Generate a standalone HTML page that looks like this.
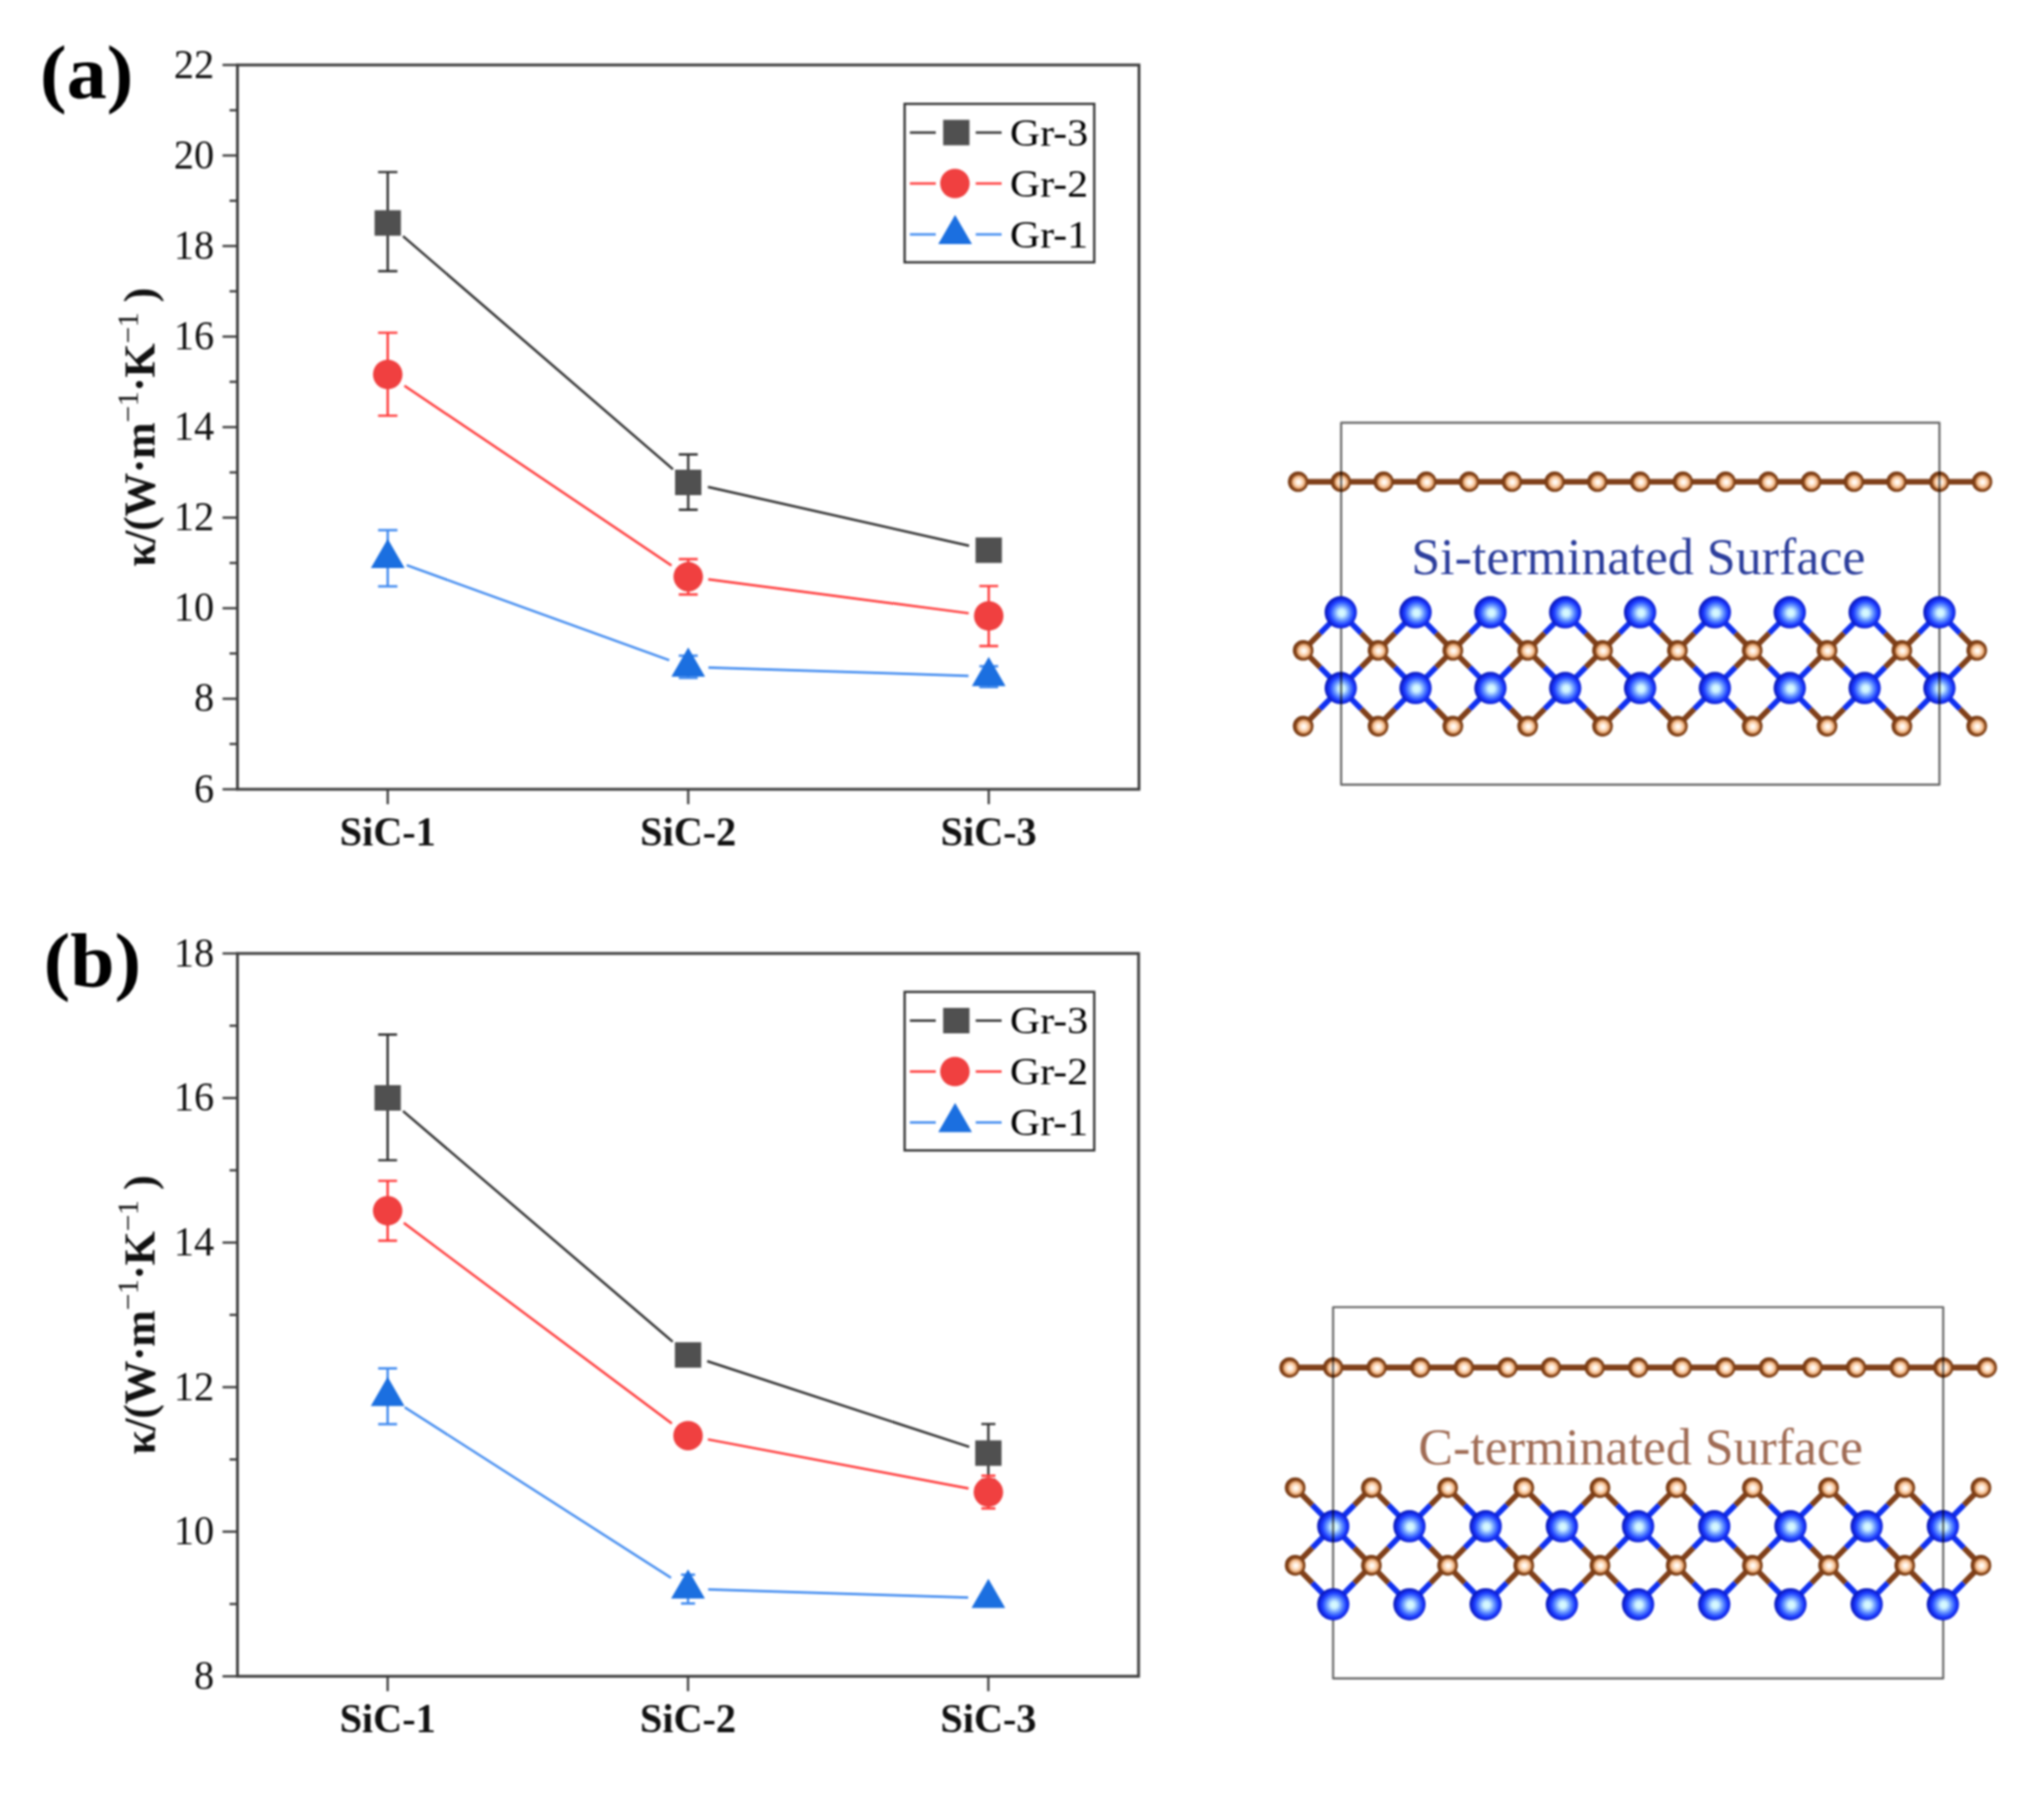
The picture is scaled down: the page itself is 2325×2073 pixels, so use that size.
<!DOCTYPE html>
<html><head><meta charset="utf-8"><title>Thermal conductivity of Gr/SiC</title>
<style>
html,body{margin:0;padding:0;background:#fff;}
svg{display:block;filter:blur(0.9px);}
text{font-family:"Liberation Serif","Times New Roman",serif;}
.b{font-weight:bold;}
</style></head><body>
<svg width="2325" height="2073" viewBox="0 0 2325 2073">
<defs>
<radialGradient id="gC" cx="0.53" cy="0.52" r="0.5">
<stop offset="0" stop-color="#ffffff"/><stop offset="0.18" stop-color="#fff4e8"/><stop offset="0.48" stop-color="#f8c8a0"/><stop offset="0.64" stop-color="#d4935f"/><stop offset="0.75" stop-color="#864519"/><stop offset="1" stop-color="#783a14"/>
</radialGradient>
<radialGradient id="gS" cx="0.53" cy="0.52" r="0.5">
<stop offset="0" stop-color="#dcfdff"/><stop offset="0.2" stop-color="#cdf3ff"/><stop offset="0.5" stop-color="#5f8eff"/><stop offset="0.74" stop-color="#1e40ff"/><stop offset="0.86" stop-color="#142ae8"/><stop offset="1" stop-color="#0c1cbc"/>
</radialGradient>
</defs>
<rect width="2325" height="2073" fill="#fff"/>

<rect x="270.5" y="74" width="1027.0" height="825" fill="none" stroke="#3e3e3e" stroke-width="3.2"/>
<line x1="253.5" y1="899.0" x2="270.5" y2="899.0" stroke="#3e3e3e" stroke-width="2.6"/>
<text x="244.0" y="913.5" font-size="46" text-anchor="end" fill="#111">6</text>
<line x1="261.5" y1="847.4" x2="270.5" y2="847.4" stroke="#3e3e3e" stroke-width="2.6"/>
<line x1="253.5" y1="795.9" x2="270.5" y2="795.9" stroke="#3e3e3e" stroke-width="2.6"/>
<text x="244.0" y="810.4" font-size="46" text-anchor="end" fill="#111">8</text>
<line x1="261.5" y1="744.3" x2="270.5" y2="744.3" stroke="#3e3e3e" stroke-width="2.6"/>
<line x1="253.5" y1="692.8" x2="270.5" y2="692.8" stroke="#3e3e3e" stroke-width="2.6"/>
<text x="244.0" y="707.2" font-size="46" text-anchor="end" fill="#111">10</text>
<line x1="261.5" y1="641.2" x2="270.5" y2="641.2" stroke="#3e3e3e" stroke-width="2.6"/>
<line x1="253.5" y1="589.6" x2="270.5" y2="589.6" stroke="#3e3e3e" stroke-width="2.6"/>
<text x="244.0" y="604.1" font-size="46" text-anchor="end" fill="#111">12</text>
<line x1="261.5" y1="538.1" x2="270.5" y2="538.1" stroke="#3e3e3e" stroke-width="2.6"/>
<line x1="253.5" y1="486.5" x2="270.5" y2="486.5" stroke="#3e3e3e" stroke-width="2.6"/>
<text x="244.0" y="501.0" font-size="46" text-anchor="end" fill="#111">14</text>
<line x1="261.5" y1="434.9" x2="270.5" y2="434.9" stroke="#3e3e3e" stroke-width="2.6"/>
<line x1="253.5" y1="383.4" x2="270.5" y2="383.4" stroke="#3e3e3e" stroke-width="2.6"/>
<text x="244.0" y="397.9" font-size="46" text-anchor="end" fill="#111">16</text>
<line x1="261.5" y1="331.8" x2="270.5" y2="331.8" stroke="#3e3e3e" stroke-width="2.6"/>
<line x1="253.5" y1="280.2" x2="270.5" y2="280.2" stroke="#3e3e3e" stroke-width="2.6"/>
<text x="244.0" y="294.8" font-size="46" text-anchor="end" fill="#111">18</text>
<line x1="261.5" y1="228.7" x2="270.5" y2="228.7" stroke="#3e3e3e" stroke-width="2.6"/>
<line x1="253.5" y1="177.1" x2="270.5" y2="177.1" stroke="#3e3e3e" stroke-width="2.6"/>
<text x="244.0" y="191.6" font-size="46" text-anchor="end" fill="#111">20</text>
<line x1="261.5" y1="125.6" x2="270.5" y2="125.6" stroke="#3e3e3e" stroke-width="2.6"/>
<line x1="253.5" y1="74.0" x2="270.5" y2="74.0" stroke="#3e3e3e" stroke-width="2.6"/>
<text x="244.0" y="88.5" font-size="46" text-anchor="end" fill="#111">22</text>
<line x1="441.7" y1="899" x2="441.7" y2="916" stroke="#3e3e3e" stroke-width="2.6"/>
<text class="b" x="441.7" y="962.8" font-size="45.8" text-anchor="middle" fill="#111">SiC-1</text>
<line x1="784.0" y1="899" x2="784.0" y2="916" stroke="#3e3e3e" stroke-width="2.6"/>
<text class="b" x="784.0" y="962.8" font-size="45.8" text-anchor="middle" fill="#111">SiC-2</text>
<line x1="1126.3" y1="899" x2="1126.3" y2="916" stroke="#3e3e3e" stroke-width="2.6"/>
<text class="b" x="1126.3" y="962.8" font-size="45.8" text-anchor="middle" fill="#111">SiC-3</text>
<text class="b" x="45.5" y="112" font-size="86" fill="#000" textLength="106.5" lengthAdjust="spacingAndGlyphs">(a)</text>
<text class="b" transform="translate(175.5,645.5) rotate(-90)" font-size="50" fill="#111" textLength="318" lengthAdjust="spacing">κ/(W·m<tspan font-size="34" dy="-19" font-weight="normal">−1</tspan><tspan dy="19">·K</tspan><tspan font-size="34" dy="-19" font-weight="normal">−1</tspan><tspan dy="19"> )</tspan></text>
<line x1="459.1" y1="269.0" x2="766.6" y2="534.5" stroke="#333333" stroke-width="2.7"/>
<line x1="806.4" y1="554.6" x2="1103.9" y2="621.6" stroke="#333333" stroke-width="2.7"/>
<path d="M441.7 196.0V308.9M430.7 196.0H452.7M430.7 308.9H452.7" stroke="#333333" stroke-width="2.7" fill="none"/>
<rect x="426.7" y="239.5" width="30" height="29" fill="#505050"/>
<path d="M784.0 517.6V580.7M773.2 517.6H794.8M773.2 580.7H794.8" stroke="#333333" stroke-width="2.7" fill="none"/>
<rect x="769.0" y="535.0" width="30" height="29" fill="#505050"/>
<rect x="1111.3" y="612.2" width="30" height="29" fill="#505050"/>
<line x1="460.7" y1="439.3" x2="764.9" y2="644.1" stroke="#ff3c3c" stroke-width="2.7"/>
<line x1="806.8" y1="659.9" x2="1103.5" y2="698.5" stroke="#ff3c3c" stroke-width="2.7"/>
<path d="M441.7 379.0V473.5M430.7 379.0H452.7M430.7 473.5H452.7" stroke="#ff3c3c" stroke-width="2.7" fill="none"/>
<circle cx="441.7" cy="426.5" r="16.8" fill="#f04040"/>
<path d="M784.0 636.8V677.1M773.2 636.8H794.8M773.2 677.1H794.8" stroke="#ff3c3c" stroke-width="2.7" fill="none"/>
<circle cx="784.0" cy="656.9" r="16.8" fill="#f04040"/>
<path d="M1126.3 667.5V735.9M1115.6 667.5H1137.1M1115.6 735.9H1137.1" stroke="#ff3c3c" stroke-width="2.7" fill="none"/>
<circle cx="1126.3" cy="701.5" r="16.8" fill="#f04040"/>
<line x1="463.3" y1="643.8" x2="762.4" y2="751.9" stroke="#438cf0" stroke-width="2.7"/>
<line x1="807.0" y1="760.4" x2="1103.3" y2="769.8" stroke="#438cf0" stroke-width="2.7"/>
<path d="M441.7 603.9V667.8M430.7 603.9H452.7M430.7 667.8H452.7" stroke="#438cf0" stroke-width="2.7" fill="none"/>
<path d="M441.7 613.8L460.9 647.1H422.5Z" fill="#1b6fe0"/>
<path d="M784.0 746.9V772.2M773.2 746.9H794.8M773.2 772.2H794.8" stroke="#438cf0" stroke-width="2.7" fill="none"/>
<path d="M784.0 737.5L803.2 770.8H764.8Z" fill="#1b6fe0"/>
<path d="M1126.3 758.9V782.6M1115.6 758.9H1137.1M1115.6 782.6H1137.1" stroke="#438cf0" stroke-width="2.7" fill="none"/>
<path d="M1126.3 748.3L1145.5 781.6H1107.1Z" fill="#1b6fe0"/>
<rect x="1030.5" y="118.3" width="216.0" height="180.5" fill="#fff" stroke="#333" stroke-width="2.6"/>
<line x1="1036.5" y1="151.0" x2="1066" y2="151.0" stroke="#333333" stroke-width="2.7"/>
<line x1="1111.5" y1="151.0" x2="1141" y2="151.0" stroke="#333333" stroke-width="2.7"/>
<rect x="1074.4" y="136.5" width="30" height="29" fill="#505050"/>
<text x="1150.5" y="165.5" font-size="44.5" fill="#000" textLength="89" lengthAdjust="spacingAndGlyphs">Gr-3</text>
<line x1="1036.5" y1="209.0" x2="1066" y2="209.0" stroke="#ff3c3c" stroke-width="2.7"/>
<line x1="1111.5" y1="209.0" x2="1141" y2="209.0" stroke="#ff3c3c" stroke-width="2.7"/>
<circle cx="1087.8" cy="209.0" r="16.8" fill="#f04040"/>
<text x="1150.5" y="223.5" font-size="44.5" fill="#000" textLength="89" lengthAdjust="spacingAndGlyphs">Gr-2</text>
<line x1="1036.5" y1="267.0" x2="1066" y2="267.0" stroke="#438cf0" stroke-width="2.7"/>
<line x1="1111.5" y1="267.0" x2="1141" y2="267.0" stroke="#438cf0" stroke-width="2.7"/>
<path d="M1088.0 244.8L1107.2 278.1H1068.8Z" fill="#1b6fe0"/>
<text x="1150.5" y="281.5" font-size="44.5" fill="#000" textLength="89" lengthAdjust="spacingAndGlyphs">Gr-1</text>
<rect x="270.5" y="1086" width="1026.5" height="823.3" fill="none" stroke="#3e3e3e" stroke-width="3.2"/>
<line x1="253.5" y1="1909.3" x2="270.5" y2="1909.3" stroke="#3e3e3e" stroke-width="2.6"/>
<text x="244.0" y="1923.8" font-size="46" text-anchor="end" fill="#111">8</text>
<line x1="261.5" y1="1827.0" x2="270.5" y2="1827.0" stroke="#3e3e3e" stroke-width="2.6"/>
<line x1="253.5" y1="1744.6" x2="270.5" y2="1744.6" stroke="#3e3e3e" stroke-width="2.6"/>
<text x="244.0" y="1759.1" font-size="46" text-anchor="end" fill="#111">10</text>
<line x1="261.5" y1="1662.3" x2="270.5" y2="1662.3" stroke="#3e3e3e" stroke-width="2.6"/>
<line x1="253.5" y1="1580.0" x2="270.5" y2="1580.0" stroke="#3e3e3e" stroke-width="2.6"/>
<text x="244.0" y="1594.5" font-size="46" text-anchor="end" fill="#111">12</text>
<line x1="261.5" y1="1497.7" x2="270.5" y2="1497.7" stroke="#3e3e3e" stroke-width="2.6"/>
<line x1="253.5" y1="1415.3" x2="270.5" y2="1415.3" stroke="#3e3e3e" stroke-width="2.6"/>
<text x="244.0" y="1429.8" font-size="46" text-anchor="end" fill="#111">14</text>
<line x1="261.5" y1="1333.0" x2="270.5" y2="1333.0" stroke="#3e3e3e" stroke-width="2.6"/>
<line x1="253.5" y1="1250.7" x2="270.5" y2="1250.7" stroke="#3e3e3e" stroke-width="2.6"/>
<text x="244.0" y="1265.2" font-size="46" text-anchor="end" fill="#111">16</text>
<line x1="261.5" y1="1168.3" x2="270.5" y2="1168.3" stroke="#3e3e3e" stroke-width="2.6"/>
<line x1="253.5" y1="1086.0" x2="270.5" y2="1086.0" stroke="#3e3e3e" stroke-width="2.6"/>
<text x="244.0" y="1100.5" font-size="46" text-anchor="end" fill="#111">18</text>
<line x1="441.6" y1="1909.3" x2="441.6" y2="1926.3" stroke="#3e3e3e" stroke-width="2.6"/>
<text class="b" x="441.6" y="1973.1" font-size="45.8" text-anchor="middle" fill="#111">SiC-1</text>
<line x1="783.8" y1="1909.3" x2="783.8" y2="1926.3" stroke="#3e3e3e" stroke-width="2.6"/>
<text class="b" x="783.8" y="1973.1" font-size="45.8" text-anchor="middle" fill="#111">SiC-2</text>
<line x1="1125.9" y1="1909.3" x2="1125.9" y2="1926.3" stroke="#3e3e3e" stroke-width="2.6"/>
<text class="b" x="1125.9" y="1973.1" font-size="45.8" text-anchor="middle" fill="#111">SiC-3</text>
<text class="b" x="49.8" y="1123" font-size="86" fill="#000" textLength="111" lengthAdjust="spacingAndGlyphs">(b)</text>
<text class="b" transform="translate(175.5,1656.7) rotate(-90)" font-size="50" fill="#111" textLength="318" lengthAdjust="spacing">κ/(W·m<tspan font-size="34" dy="-19" font-weight="normal">−1</tspan><tspan dy="19">·K</tspan><tspan font-size="34" dy="-19" font-weight="normal">−1</tspan><tspan dy="19"> )</tspan></text>
<line x1="459.1" y1="1265.5" x2="766.3" y2="1528.3" stroke="#333333" stroke-width="2.7"/>
<line x1="805.6" y1="1550.4" x2="1104.1" y2="1648.0" stroke="#333333" stroke-width="2.7"/>
<path d="M441.6 1178.4V1321.5M430.8 1178.4H452.3M430.8 1321.5H452.3" stroke="#333333" stroke-width="2.7" fill="none"/>
<rect x="426.6" y="1236.0" width="30" height="29" fill="#505050"/>
<rect x="768.8" y="1528.8" width="30" height="29" fill="#505050"/>
<path d="M1125.9 1622.0V1685.4M1117.9 1622.0H1133.9M1117.9 1685.4H1133.9" stroke="#333333" stroke-width="2.7" fill="none"/>
<rect x="1110.9" y="1640.6" width="30" height="29" fill="#505050"/>
<line x1="460.0" y1="1392.9" x2="765.3" y2="1621.4" stroke="#ff3c3c" stroke-width="2.7"/>
<line x1="806.4" y1="1639.5" x2="1103.3" y2="1695.3" stroke="#ff3c3c" stroke-width="2.7"/>
<path d="M441.6 1345.0V1413.2M430.8 1345.0H452.3M430.8 1413.2H452.3" stroke="#ff3c3c" stroke-width="2.7" fill="none"/>
<circle cx="441.6" cy="1379.1" r="16.8" fill="#f04040"/>
<circle cx="783.8" cy="1635.2" r="16.8" fill="#f04040"/>
<path d="M1125.9 1680.8V1718.1M1117.9 1680.8H1133.9M1117.9 1718.1H1133.9" stroke="#ff3c3c" stroke-width="2.7" fill="none"/>
<circle cx="1125.9" cy="1699.6" r="16.8" fill="#f04040"/>
<line x1="461.0" y1="1602.8" x2="764.4" y2="1797.2" stroke="#438cf0" stroke-width="2.7"/>
<line x1="806.7" y1="1810.3" x2="1102.9" y2="1819.7" stroke="#438cf0" stroke-width="2.7"/>
<path d="M441.6 1558.6V1622.1M430.8 1558.6H452.3M430.8 1622.1H452.3" stroke="#438cf0" stroke-width="2.7" fill="none"/>
<path d="M441.6 1568.2L460.8 1601.5H422.4Z" fill="#1b6fe0"/>
<path d="M783.8 1793.6V1826.3M775.8 1793.6H791.8M775.8 1826.3H791.8" stroke="#438cf0" stroke-width="2.7" fill="none"/>
<path d="M783.8 1787.4L803.0 1820.7H764.5Z" fill="#1b6fe0"/>
<path d="M1125.9 1798.2L1145.1 1831.5H1106.7Z" fill="#1b6fe0"/>
<rect x="1030.5" y="1129.8" width="216.0" height="180.5" fill="#fff" stroke="#333" stroke-width="2.6"/>
<line x1="1036.5" y1="1162.5" x2="1066" y2="1162.5" stroke="#333333" stroke-width="2.7"/>
<line x1="1111.5" y1="1162.5" x2="1141" y2="1162.5" stroke="#333333" stroke-width="2.7"/>
<rect x="1074.4" y="1148.0" width="30" height="29" fill="#505050"/>
<text x="1150.5" y="1177.0" font-size="44.5" fill="#000" textLength="89" lengthAdjust="spacingAndGlyphs">Gr-3</text>
<line x1="1036.5" y1="1220.5" x2="1066" y2="1220.5" stroke="#ff3c3c" stroke-width="2.7"/>
<line x1="1111.5" y1="1220.5" x2="1141" y2="1220.5" stroke="#ff3c3c" stroke-width="2.7"/>
<circle cx="1087.8" cy="1220.5" r="16.8" fill="#f04040"/>
<text x="1150.5" y="1235.0" font-size="44.5" fill="#000" textLength="89" lengthAdjust="spacingAndGlyphs">Gr-2</text>
<line x1="1036.5" y1="1278.5" x2="1066" y2="1278.5" stroke="#438cf0" stroke-width="2.7"/>
<line x1="1111.5" y1="1278.5" x2="1141" y2="1278.5" stroke="#438cf0" stroke-width="2.7"/>
<path d="M1088.0 1256.3L1107.2 1289.6H1068.8Z" fill="#1b6fe0"/>
<text x="1150.5" y="1293.0" font-size="44.5" fill="#000" textLength="89" lengthAdjust="spacingAndGlyphs">Gr-1</text>
<line x1="1478.7" y1="548.7" x2="2257.9" y2="548.7" stroke="#80401a" stroke-width="6.6"/>
<circle cx="1478.7" cy="548.7" r="11.6" fill="url(#gC)"/>
<circle cx="1527.4" cy="548.7" r="11.6" fill="url(#gC)"/>
<circle cx="1576.1" cy="548.7" r="11.6" fill="url(#gC)"/>
<circle cx="1624.8" cy="548.7" r="11.6" fill="url(#gC)"/>
<circle cx="1673.5" cy="548.7" r="11.6" fill="url(#gC)"/>
<circle cx="1722.2" cy="548.7" r="11.6" fill="url(#gC)"/>
<circle cx="1770.9" cy="548.7" r="11.6" fill="url(#gC)"/>
<circle cx="1819.6" cy="548.7" r="11.6" fill="url(#gC)"/>
<circle cx="1868.3" cy="548.7" r="11.6" fill="url(#gC)"/>
<circle cx="1917.0" cy="548.7" r="11.6" fill="url(#gC)"/>
<circle cx="1965.7" cy="548.7" r="11.6" fill="url(#gC)"/>
<circle cx="2014.4" cy="548.7" r="11.6" fill="url(#gC)"/>
<circle cx="2063.1" cy="548.7" r="11.6" fill="url(#gC)"/>
<circle cx="2111.8" cy="548.7" r="11.6" fill="url(#gC)"/>
<circle cx="2160.5" cy="548.7" r="11.6" fill="url(#gC)"/>
<circle cx="2209.2" cy="548.7" r="11.6" fill="url(#gC)"/>
<circle cx="2257.9" cy="548.7" r="11.6" fill="url(#gC)"/>
<line x1="1527.3" y1="697.4" x2="1503.8" y2="721.3" stroke="#1030f0" stroke-width="6.4"/>
<line x1="1503.8" y1="721.3" x2="1484.5" y2="740.8" stroke="#80401a" stroke-width="6.4"/>
<line x1="1527.3" y1="697.4" x2="1550.6" y2="721.3" stroke="#1030f0" stroke-width="6.4"/>
<line x1="1550.6" y1="721.3" x2="1569.8" y2="740.8" stroke="#80401a" stroke-width="6.4"/>
<line x1="1612.5" y1="697.4" x2="1589.0" y2="721.3" stroke="#1030f0" stroke-width="6.4"/>
<line x1="1589.0" y1="721.3" x2="1569.8" y2="740.8" stroke="#80401a" stroke-width="6.4"/>
<line x1="1612.5" y1="697.4" x2="1635.9" y2="721.3" stroke="#1030f0" stroke-width="6.4"/>
<line x1="1635.9" y1="721.3" x2="1655.0" y2="740.8" stroke="#80401a" stroke-width="6.4"/>
<line x1="1697.8" y1="697.4" x2="1674.3" y2="721.3" stroke="#1030f0" stroke-width="6.4"/>
<line x1="1674.3" y1="721.3" x2="1655.0" y2="740.8" stroke="#80401a" stroke-width="6.4"/>
<line x1="1697.8" y1="697.4" x2="1721.1" y2="721.3" stroke="#1030f0" stroke-width="6.4"/>
<line x1="1721.1" y1="721.3" x2="1740.2" y2="740.8" stroke="#80401a" stroke-width="6.4"/>
<line x1="1783.0" y1="697.4" x2="1759.5" y2="721.3" stroke="#1030f0" stroke-width="6.4"/>
<line x1="1759.5" y1="721.3" x2="1740.2" y2="740.8" stroke="#80401a" stroke-width="6.4"/>
<line x1="1783.0" y1="697.4" x2="1806.4" y2="721.3" stroke="#1030f0" stroke-width="6.4"/>
<line x1="1806.4" y1="721.3" x2="1825.5" y2="740.8" stroke="#80401a" stroke-width="6.4"/>
<line x1="1868.3" y1="697.4" x2="1844.8" y2="721.3" stroke="#1030f0" stroke-width="6.4"/>
<line x1="1844.8" y1="721.3" x2="1825.5" y2="740.8" stroke="#80401a" stroke-width="6.4"/>
<line x1="1868.3" y1="697.4" x2="1891.6" y2="721.3" stroke="#1030f0" stroke-width="6.4"/>
<line x1="1891.6" y1="721.3" x2="1910.8" y2="740.8" stroke="#80401a" stroke-width="6.4"/>
<line x1="1953.5" y1="697.4" x2="1930.0" y2="721.3" stroke="#1030f0" stroke-width="6.4"/>
<line x1="1930.0" y1="721.3" x2="1910.8" y2="740.8" stroke="#80401a" stroke-width="6.4"/>
<line x1="1953.5" y1="697.4" x2="1976.9" y2="721.3" stroke="#1030f0" stroke-width="6.4"/>
<line x1="1976.9" y1="721.3" x2="1996.0" y2="740.8" stroke="#80401a" stroke-width="6.4"/>
<line x1="2038.8" y1="697.4" x2="2015.3" y2="721.3" stroke="#1030f0" stroke-width="6.4"/>
<line x1="2015.3" y1="721.3" x2="1996.0" y2="740.8" stroke="#80401a" stroke-width="6.4"/>
<line x1="2038.8" y1="697.4" x2="2062.1" y2="721.3" stroke="#1030f0" stroke-width="6.4"/>
<line x1="2062.1" y1="721.3" x2="2081.2" y2="740.8" stroke="#80401a" stroke-width="6.4"/>
<line x1="2124.1" y1="697.4" x2="2100.5" y2="721.3" stroke="#1030f0" stroke-width="6.4"/>
<line x1="2100.5" y1="721.3" x2="2081.2" y2="740.8" stroke="#80401a" stroke-width="6.4"/>
<line x1="2124.1" y1="697.4" x2="2147.4" y2="721.3" stroke="#1030f0" stroke-width="6.4"/>
<line x1="2147.4" y1="721.3" x2="2166.5" y2="740.8" stroke="#80401a" stroke-width="6.4"/>
<line x1="2209.3" y1="697.4" x2="2185.8" y2="721.3" stroke="#1030f0" stroke-width="6.4"/>
<line x1="2185.8" y1="721.3" x2="2166.5" y2="740.8" stroke="#80401a" stroke-width="6.4"/>
<line x1="2209.3" y1="697.4" x2="2232.6" y2="721.3" stroke="#1030f0" stroke-width="6.4"/>
<line x1="2232.6" y1="721.3" x2="2251.8" y2="740.8" stroke="#80401a" stroke-width="6.4"/>
<line x1="1484.5" y1="740.8" x2="1503.8" y2="760.1" stroke="#80401a" stroke-width="6.4"/>
<line x1="1503.8" y1="760.1" x2="1527.3" y2="783.7" stroke="#1030f0" stroke-width="6.4"/>
<line x1="1569.8" y1="740.8" x2="1550.6" y2="760.1" stroke="#80401a" stroke-width="6.4"/>
<line x1="1550.6" y1="760.1" x2="1527.3" y2="783.7" stroke="#1030f0" stroke-width="6.4"/>
<line x1="1569.8" y1="740.8" x2="1589.0" y2="760.1" stroke="#80401a" stroke-width="6.4"/>
<line x1="1589.0" y1="760.1" x2="1612.5" y2="783.7" stroke="#1030f0" stroke-width="6.4"/>
<line x1="1655.0" y1="740.8" x2="1635.9" y2="760.1" stroke="#80401a" stroke-width="6.4"/>
<line x1="1635.9" y1="760.1" x2="1612.5" y2="783.7" stroke="#1030f0" stroke-width="6.4"/>
<line x1="1655.0" y1="740.8" x2="1674.3" y2="760.1" stroke="#80401a" stroke-width="6.4"/>
<line x1="1674.3" y1="760.1" x2="1697.8" y2="783.7" stroke="#1030f0" stroke-width="6.4"/>
<line x1="1740.2" y1="740.8" x2="1721.1" y2="760.1" stroke="#80401a" stroke-width="6.4"/>
<line x1="1721.1" y1="760.1" x2="1697.8" y2="783.7" stroke="#1030f0" stroke-width="6.4"/>
<line x1="1740.2" y1="740.8" x2="1759.5" y2="760.1" stroke="#80401a" stroke-width="6.4"/>
<line x1="1759.5" y1="760.1" x2="1783.0" y2="783.7" stroke="#1030f0" stroke-width="6.4"/>
<line x1="1825.5" y1="740.8" x2="1806.4" y2="760.1" stroke="#80401a" stroke-width="6.4"/>
<line x1="1806.4" y1="760.1" x2="1783.0" y2="783.7" stroke="#1030f0" stroke-width="6.4"/>
<line x1="1825.5" y1="740.8" x2="1844.8" y2="760.1" stroke="#80401a" stroke-width="6.4"/>
<line x1="1844.8" y1="760.1" x2="1868.3" y2="783.7" stroke="#1030f0" stroke-width="6.4"/>
<line x1="1910.8" y1="740.8" x2="1891.6" y2="760.1" stroke="#80401a" stroke-width="6.4"/>
<line x1="1891.6" y1="760.1" x2="1868.3" y2="783.7" stroke="#1030f0" stroke-width="6.4"/>
<line x1="1910.8" y1="740.8" x2="1930.0" y2="760.1" stroke="#80401a" stroke-width="6.4"/>
<line x1="1930.0" y1="760.1" x2="1953.5" y2="783.7" stroke="#1030f0" stroke-width="6.4"/>
<line x1="1996.0" y1="740.8" x2="1976.9" y2="760.1" stroke="#80401a" stroke-width="6.4"/>
<line x1="1976.9" y1="760.1" x2="1953.5" y2="783.7" stroke="#1030f0" stroke-width="6.4"/>
<line x1="1996.0" y1="740.8" x2="2015.3" y2="760.1" stroke="#80401a" stroke-width="6.4"/>
<line x1="2015.3" y1="760.1" x2="2038.8" y2="783.7" stroke="#1030f0" stroke-width="6.4"/>
<line x1="2081.2" y1="740.8" x2="2062.1" y2="760.1" stroke="#80401a" stroke-width="6.4"/>
<line x1="2062.1" y1="760.1" x2="2038.8" y2="783.7" stroke="#1030f0" stroke-width="6.4"/>
<line x1="2081.2" y1="740.8" x2="2100.5" y2="760.1" stroke="#80401a" stroke-width="6.4"/>
<line x1="2100.5" y1="760.1" x2="2124.1" y2="783.7" stroke="#1030f0" stroke-width="6.4"/>
<line x1="2166.5" y1="740.8" x2="2147.4" y2="760.1" stroke="#80401a" stroke-width="6.4"/>
<line x1="2147.4" y1="760.1" x2="2124.1" y2="783.7" stroke="#1030f0" stroke-width="6.4"/>
<line x1="2166.5" y1="740.8" x2="2185.8" y2="760.1" stroke="#80401a" stroke-width="6.4"/>
<line x1="2185.8" y1="760.1" x2="2209.3" y2="783.7" stroke="#1030f0" stroke-width="6.4"/>
<line x1="2251.8" y1="740.8" x2="2232.6" y2="760.1" stroke="#80401a" stroke-width="6.4"/>
<line x1="2232.6" y1="760.1" x2="2209.3" y2="783.7" stroke="#1030f0" stroke-width="6.4"/>
<line x1="1527.3" y1="783.7" x2="1503.8" y2="807.6" stroke="#1030f0" stroke-width="6.4"/>
<line x1="1503.8" y1="807.6" x2="1484.5" y2="827.1" stroke="#80401a" stroke-width="6.4"/>
<line x1="1527.3" y1="783.7" x2="1550.6" y2="807.6" stroke="#1030f0" stroke-width="6.4"/>
<line x1="1550.6" y1="807.6" x2="1569.8" y2="827.1" stroke="#80401a" stroke-width="6.4"/>
<line x1="1612.5" y1="783.7" x2="1589.0" y2="807.6" stroke="#1030f0" stroke-width="6.4"/>
<line x1="1589.0" y1="807.6" x2="1569.8" y2="827.1" stroke="#80401a" stroke-width="6.4"/>
<line x1="1612.5" y1="783.7" x2="1635.9" y2="807.6" stroke="#1030f0" stroke-width="6.4"/>
<line x1="1635.9" y1="807.6" x2="1655.0" y2="827.1" stroke="#80401a" stroke-width="6.4"/>
<line x1="1697.8" y1="783.7" x2="1674.3" y2="807.6" stroke="#1030f0" stroke-width="6.4"/>
<line x1="1674.3" y1="807.6" x2="1655.0" y2="827.1" stroke="#80401a" stroke-width="6.4"/>
<line x1="1697.8" y1="783.7" x2="1721.1" y2="807.6" stroke="#1030f0" stroke-width="6.4"/>
<line x1="1721.1" y1="807.6" x2="1740.2" y2="827.1" stroke="#80401a" stroke-width="6.4"/>
<line x1="1783.0" y1="783.7" x2="1759.5" y2="807.6" stroke="#1030f0" stroke-width="6.4"/>
<line x1="1759.5" y1="807.6" x2="1740.2" y2="827.1" stroke="#80401a" stroke-width="6.4"/>
<line x1="1783.0" y1="783.7" x2="1806.4" y2="807.6" stroke="#1030f0" stroke-width="6.4"/>
<line x1="1806.4" y1="807.6" x2="1825.5" y2="827.1" stroke="#80401a" stroke-width="6.4"/>
<line x1="1868.3" y1="783.7" x2="1844.8" y2="807.6" stroke="#1030f0" stroke-width="6.4"/>
<line x1="1844.8" y1="807.6" x2="1825.5" y2="827.1" stroke="#80401a" stroke-width="6.4"/>
<line x1="1868.3" y1="783.7" x2="1891.6" y2="807.6" stroke="#1030f0" stroke-width="6.4"/>
<line x1="1891.6" y1="807.6" x2="1910.8" y2="827.1" stroke="#80401a" stroke-width="6.4"/>
<line x1="1953.5" y1="783.7" x2="1930.0" y2="807.6" stroke="#1030f0" stroke-width="6.4"/>
<line x1="1930.0" y1="807.6" x2="1910.8" y2="827.1" stroke="#80401a" stroke-width="6.4"/>
<line x1="1953.5" y1="783.7" x2="1976.9" y2="807.6" stroke="#1030f0" stroke-width="6.4"/>
<line x1="1976.9" y1="807.6" x2="1996.0" y2="827.1" stroke="#80401a" stroke-width="6.4"/>
<line x1="2038.8" y1="783.7" x2="2015.3" y2="807.6" stroke="#1030f0" stroke-width="6.4"/>
<line x1="2015.3" y1="807.6" x2="1996.0" y2="827.1" stroke="#80401a" stroke-width="6.4"/>
<line x1="2038.8" y1="783.7" x2="2062.1" y2="807.6" stroke="#1030f0" stroke-width="6.4"/>
<line x1="2062.1" y1="807.6" x2="2081.2" y2="827.1" stroke="#80401a" stroke-width="6.4"/>
<line x1="2124.1" y1="783.7" x2="2100.5" y2="807.6" stroke="#1030f0" stroke-width="6.4"/>
<line x1="2100.5" y1="807.6" x2="2081.2" y2="827.1" stroke="#80401a" stroke-width="6.4"/>
<line x1="2124.1" y1="783.7" x2="2147.4" y2="807.6" stroke="#1030f0" stroke-width="6.4"/>
<line x1="2147.4" y1="807.6" x2="2166.5" y2="827.1" stroke="#80401a" stroke-width="6.4"/>
<line x1="2209.3" y1="783.7" x2="2185.8" y2="807.6" stroke="#1030f0" stroke-width="6.4"/>
<line x1="2185.8" y1="807.6" x2="2166.5" y2="827.1" stroke="#80401a" stroke-width="6.4"/>
<line x1="2209.3" y1="783.7" x2="2232.6" y2="807.6" stroke="#1030f0" stroke-width="6.4"/>
<line x1="2232.6" y1="807.6" x2="2251.8" y2="827.1" stroke="#80401a" stroke-width="6.4"/>
<circle cx="1484.5" cy="740.8" r="11.8" fill="url(#gC)"/>
<circle cx="1569.8" cy="740.8" r="11.8" fill="url(#gC)"/>
<circle cx="1655.0" cy="740.8" r="11.8" fill="url(#gC)"/>
<circle cx="1740.2" cy="740.8" r="11.8" fill="url(#gC)"/>
<circle cx="1825.5" cy="740.8" r="11.8" fill="url(#gC)"/>
<circle cx="1910.8" cy="740.8" r="11.8" fill="url(#gC)"/>
<circle cx="1996.0" cy="740.8" r="11.8" fill="url(#gC)"/>
<circle cx="2081.2" cy="740.8" r="11.8" fill="url(#gC)"/>
<circle cx="2166.5" cy="740.8" r="11.8" fill="url(#gC)"/>
<circle cx="2251.8" cy="740.8" r="11.8" fill="url(#gC)"/>
<circle cx="1527.3" cy="783.7" r="18.4" fill="url(#gS)"/>
<circle cx="1612.5" cy="783.7" r="18.4" fill="url(#gS)"/>
<circle cx="1697.8" cy="783.7" r="18.4" fill="url(#gS)"/>
<circle cx="1783.0" cy="783.7" r="18.4" fill="url(#gS)"/>
<circle cx="1868.3" cy="783.7" r="18.4" fill="url(#gS)"/>
<circle cx="1953.5" cy="783.7" r="18.4" fill="url(#gS)"/>
<circle cx="2038.8" cy="783.7" r="18.4" fill="url(#gS)"/>
<circle cx="2124.1" cy="783.7" r="18.4" fill="url(#gS)"/>
<circle cx="2209.3" cy="783.7" r="18.4" fill="url(#gS)"/>
<circle cx="1484.5" cy="827.1" r="11.8" fill="url(#gC)"/>
<circle cx="1569.8" cy="827.1" r="11.8" fill="url(#gC)"/>
<circle cx="1655.0" cy="827.1" r="11.8" fill="url(#gC)"/>
<circle cx="1740.2" cy="827.1" r="11.8" fill="url(#gC)"/>
<circle cx="1825.5" cy="827.1" r="11.8" fill="url(#gC)"/>
<circle cx="1910.8" cy="827.1" r="11.8" fill="url(#gC)"/>
<circle cx="1996.0" cy="827.1" r="11.8" fill="url(#gC)"/>
<circle cx="2081.2" cy="827.1" r="11.8" fill="url(#gC)"/>
<circle cx="2166.5" cy="827.1" r="11.8" fill="url(#gC)"/>
<circle cx="2251.8" cy="827.1" r="11.8" fill="url(#gC)"/>
<path d="M1527.8 481.5H2209.3V893.7H1527.8Z" fill="none" stroke="#000" stroke-opacity="0.6" stroke-width="2.4" stroke-linejoin="round"/>
<circle cx="1527.3" cy="697.4" r="18.4" fill="url(#gS)"/>
<circle cx="1612.5" cy="697.4" r="18.4" fill="url(#gS)"/>
<circle cx="1697.8" cy="697.4" r="18.4" fill="url(#gS)"/>
<circle cx="1783.0" cy="697.4" r="18.4" fill="url(#gS)"/>
<circle cx="1868.3" cy="697.4" r="18.4" fill="url(#gS)"/>
<circle cx="1953.5" cy="697.4" r="18.4" fill="url(#gS)"/>
<circle cx="2038.8" cy="697.4" r="18.4" fill="url(#gS)"/>
<circle cx="2124.1" cy="697.4" r="18.4" fill="url(#gS)"/>
<circle cx="2209.3" cy="697.4" r="18.4" fill="url(#gS)"/>
<text x="1607.7" y="654" font-size="58.5" fill="#2c3e9c" textLength="517.3" lengthAdjust="spacingAndGlyphs">Si-terminated Surface</text>
<line x1="1468.9" y1="1557.6" x2="2263.3" y2="1557.6" stroke="#80401a" stroke-width="6.6"/>
<circle cx="1468.9" cy="1557.6" r="11.6" fill="url(#gC)"/>
<circle cx="1518.6" cy="1557.6" r="11.6" fill="url(#gC)"/>
<circle cx="1568.2" cy="1557.6" r="11.6" fill="url(#gC)"/>
<circle cx="1617.9" cy="1557.6" r="11.6" fill="url(#gC)"/>
<circle cx="1667.5" cy="1557.6" r="11.6" fill="url(#gC)"/>
<circle cx="1717.2" cy="1557.6" r="11.6" fill="url(#gC)"/>
<circle cx="1766.8" cy="1557.6" r="11.6" fill="url(#gC)"/>
<circle cx="1816.5" cy="1557.6" r="11.6" fill="url(#gC)"/>
<circle cx="1866.1" cy="1557.6" r="11.6" fill="url(#gC)"/>
<circle cx="1915.8" cy="1557.6" r="11.6" fill="url(#gC)"/>
<circle cx="1965.4" cy="1557.6" r="11.6" fill="url(#gC)"/>
<circle cx="2015.1" cy="1557.6" r="11.6" fill="url(#gC)"/>
<circle cx="2064.7" cy="1557.6" r="11.6" fill="url(#gC)"/>
<circle cx="2114.3" cy="1557.6" r="11.6" fill="url(#gC)"/>
<circle cx="2164.0" cy="1557.6" r="11.6" fill="url(#gC)"/>
<circle cx="2213.7" cy="1557.6" r="11.6" fill="url(#gC)"/>
<circle cx="2263.3" cy="1557.6" r="11.6" fill="url(#gC)"/>
<line x1="1475.4" y1="1694.5" x2="1494.9" y2="1714.3" stroke="#80401a" stroke-width="6.4"/>
<line x1="1494.9" y1="1714.3" x2="1518.8" y2="1738.4" stroke="#1030f0" stroke-width="6.4"/>
<line x1="1562.2" y1="1694.5" x2="1542.7" y2="1714.3" stroke="#80401a" stroke-width="6.4"/>
<line x1="1542.7" y1="1714.3" x2="1518.8" y2="1738.4" stroke="#1030f0" stroke-width="6.4"/>
<line x1="1562.2" y1="1694.5" x2="1581.7" y2="1714.3" stroke="#80401a" stroke-width="6.4"/>
<line x1="1581.7" y1="1714.3" x2="1605.6" y2="1738.4" stroke="#1030f0" stroke-width="6.4"/>
<line x1="1649.0" y1="1694.5" x2="1629.5" y2="1714.3" stroke="#80401a" stroke-width="6.4"/>
<line x1="1629.5" y1="1714.3" x2="1605.6" y2="1738.4" stroke="#1030f0" stroke-width="6.4"/>
<line x1="1649.0" y1="1694.5" x2="1668.5" y2="1714.3" stroke="#80401a" stroke-width="6.4"/>
<line x1="1668.5" y1="1714.3" x2="1692.4" y2="1738.4" stroke="#1030f0" stroke-width="6.4"/>
<line x1="1735.8" y1="1694.5" x2="1716.3" y2="1714.3" stroke="#80401a" stroke-width="6.4"/>
<line x1="1716.3" y1="1714.3" x2="1692.4" y2="1738.4" stroke="#1030f0" stroke-width="6.4"/>
<line x1="1735.8" y1="1694.5" x2="1755.3" y2="1714.3" stroke="#80401a" stroke-width="6.4"/>
<line x1="1755.3" y1="1714.3" x2="1779.2" y2="1738.4" stroke="#1030f0" stroke-width="6.4"/>
<line x1="1822.6" y1="1694.5" x2="1803.1" y2="1714.3" stroke="#80401a" stroke-width="6.4"/>
<line x1="1803.1" y1="1714.3" x2="1779.2" y2="1738.4" stroke="#1030f0" stroke-width="6.4"/>
<line x1="1822.6" y1="1694.5" x2="1842.1" y2="1714.3" stroke="#80401a" stroke-width="6.4"/>
<line x1="1842.1" y1="1714.3" x2="1866.0" y2="1738.4" stroke="#1030f0" stroke-width="6.4"/>
<line x1="1909.4" y1="1694.5" x2="1889.9" y2="1714.3" stroke="#80401a" stroke-width="6.4"/>
<line x1="1889.9" y1="1714.3" x2="1866.0" y2="1738.4" stroke="#1030f0" stroke-width="6.4"/>
<line x1="1909.4" y1="1694.5" x2="1928.9" y2="1714.3" stroke="#80401a" stroke-width="6.4"/>
<line x1="1928.9" y1="1714.3" x2="1952.8" y2="1738.4" stroke="#1030f0" stroke-width="6.4"/>
<line x1="1996.2" y1="1694.5" x2="1976.7" y2="1714.3" stroke="#80401a" stroke-width="6.4"/>
<line x1="1976.7" y1="1714.3" x2="1952.8" y2="1738.4" stroke="#1030f0" stroke-width="6.4"/>
<line x1="1996.2" y1="1694.5" x2="2015.7" y2="1714.3" stroke="#80401a" stroke-width="6.4"/>
<line x1="2015.7" y1="1714.3" x2="2039.6" y2="1738.4" stroke="#1030f0" stroke-width="6.4"/>
<line x1="2083.0" y1="1694.5" x2="2063.5" y2="1714.3" stroke="#80401a" stroke-width="6.4"/>
<line x1="2063.5" y1="1714.3" x2="2039.6" y2="1738.4" stroke="#1030f0" stroke-width="6.4"/>
<line x1="2083.0" y1="1694.5" x2="2102.5" y2="1714.3" stroke="#80401a" stroke-width="6.4"/>
<line x1="2102.5" y1="1714.3" x2="2126.4" y2="1738.4" stroke="#1030f0" stroke-width="6.4"/>
<line x1="2169.8" y1="1694.5" x2="2150.3" y2="1714.3" stroke="#80401a" stroke-width="6.4"/>
<line x1="2150.3" y1="1714.3" x2="2126.4" y2="1738.4" stroke="#1030f0" stroke-width="6.4"/>
<line x1="2169.8" y1="1694.5" x2="2189.3" y2="1714.3" stroke="#80401a" stroke-width="6.4"/>
<line x1="2189.3" y1="1714.3" x2="2213.2" y2="1738.4" stroke="#1030f0" stroke-width="6.4"/>
<line x1="2256.6" y1="1694.5" x2="2237.1" y2="1714.3" stroke="#80401a" stroke-width="6.4"/>
<line x1="2237.1" y1="1714.3" x2="2213.2" y2="1738.4" stroke="#1030f0" stroke-width="6.4"/>
<line x1="1518.8" y1="1738.4" x2="1494.9" y2="1762.9" stroke="#1030f0" stroke-width="6.4"/>
<line x1="1494.9" y1="1762.9" x2="1475.4" y2="1782.9" stroke="#80401a" stroke-width="6.4"/>
<line x1="1518.8" y1="1738.4" x2="1542.7" y2="1762.9" stroke="#1030f0" stroke-width="6.4"/>
<line x1="1542.7" y1="1762.9" x2="1562.2" y2="1782.9" stroke="#80401a" stroke-width="6.4"/>
<line x1="1605.6" y1="1738.4" x2="1581.7" y2="1762.9" stroke="#1030f0" stroke-width="6.4"/>
<line x1="1581.7" y1="1762.9" x2="1562.2" y2="1782.9" stroke="#80401a" stroke-width="6.4"/>
<line x1="1605.6" y1="1738.4" x2="1629.5" y2="1762.9" stroke="#1030f0" stroke-width="6.4"/>
<line x1="1629.5" y1="1762.9" x2="1649.0" y2="1782.9" stroke="#80401a" stroke-width="6.4"/>
<line x1="1692.4" y1="1738.4" x2="1668.5" y2="1762.9" stroke="#1030f0" stroke-width="6.4"/>
<line x1="1668.5" y1="1762.9" x2="1649.0" y2="1782.9" stroke="#80401a" stroke-width="6.4"/>
<line x1="1692.4" y1="1738.4" x2="1716.3" y2="1762.9" stroke="#1030f0" stroke-width="6.4"/>
<line x1="1716.3" y1="1762.9" x2="1735.8" y2="1782.9" stroke="#80401a" stroke-width="6.4"/>
<line x1="1779.2" y1="1738.4" x2="1755.3" y2="1762.9" stroke="#1030f0" stroke-width="6.4"/>
<line x1="1755.3" y1="1762.9" x2="1735.8" y2="1782.9" stroke="#80401a" stroke-width="6.4"/>
<line x1="1779.2" y1="1738.4" x2="1803.1" y2="1762.9" stroke="#1030f0" stroke-width="6.4"/>
<line x1="1803.1" y1="1762.9" x2="1822.6" y2="1782.9" stroke="#80401a" stroke-width="6.4"/>
<line x1="1866.0" y1="1738.4" x2="1842.1" y2="1762.9" stroke="#1030f0" stroke-width="6.4"/>
<line x1="1842.1" y1="1762.9" x2="1822.6" y2="1782.9" stroke="#80401a" stroke-width="6.4"/>
<line x1="1866.0" y1="1738.4" x2="1889.9" y2="1762.9" stroke="#1030f0" stroke-width="6.4"/>
<line x1="1889.9" y1="1762.9" x2="1909.4" y2="1782.9" stroke="#80401a" stroke-width="6.4"/>
<line x1="1952.8" y1="1738.4" x2="1928.9" y2="1762.9" stroke="#1030f0" stroke-width="6.4"/>
<line x1="1928.9" y1="1762.9" x2="1909.4" y2="1782.9" stroke="#80401a" stroke-width="6.4"/>
<line x1="1952.8" y1="1738.4" x2="1976.7" y2="1762.9" stroke="#1030f0" stroke-width="6.4"/>
<line x1="1976.7" y1="1762.9" x2="1996.2" y2="1782.9" stroke="#80401a" stroke-width="6.4"/>
<line x1="2039.6" y1="1738.4" x2="2015.7" y2="1762.9" stroke="#1030f0" stroke-width="6.4"/>
<line x1="2015.7" y1="1762.9" x2="1996.2" y2="1782.9" stroke="#80401a" stroke-width="6.4"/>
<line x1="2039.6" y1="1738.4" x2="2063.5" y2="1762.9" stroke="#1030f0" stroke-width="6.4"/>
<line x1="2063.5" y1="1762.9" x2="2083.0" y2="1782.9" stroke="#80401a" stroke-width="6.4"/>
<line x1="2126.4" y1="1738.4" x2="2102.5" y2="1762.9" stroke="#1030f0" stroke-width="6.4"/>
<line x1="2102.5" y1="1762.9" x2="2083.0" y2="1782.9" stroke="#80401a" stroke-width="6.4"/>
<line x1="2126.4" y1="1738.4" x2="2150.3" y2="1762.9" stroke="#1030f0" stroke-width="6.4"/>
<line x1="2150.3" y1="1762.9" x2="2169.8" y2="1782.9" stroke="#80401a" stroke-width="6.4"/>
<line x1="2213.2" y1="1738.4" x2="2189.3" y2="1762.9" stroke="#1030f0" stroke-width="6.4"/>
<line x1="2189.3" y1="1762.9" x2="2169.8" y2="1782.9" stroke="#80401a" stroke-width="6.4"/>
<line x1="2213.2" y1="1738.4" x2="2237.1" y2="1762.9" stroke="#1030f0" stroke-width="6.4"/>
<line x1="2237.1" y1="1762.9" x2="2256.6" y2="1782.9" stroke="#80401a" stroke-width="6.4"/>
<line x1="1475.4" y1="1782.9" x2="1494.9" y2="1802.9" stroke="#80401a" stroke-width="6.4"/>
<line x1="1494.9" y1="1802.9" x2="1518.8" y2="1827.3" stroke="#1030f0" stroke-width="6.4"/>
<line x1="1562.2" y1="1782.9" x2="1542.7" y2="1802.9" stroke="#80401a" stroke-width="6.4"/>
<line x1="1542.7" y1="1802.9" x2="1518.8" y2="1827.3" stroke="#1030f0" stroke-width="6.4"/>
<line x1="1562.2" y1="1782.9" x2="1581.7" y2="1802.9" stroke="#80401a" stroke-width="6.4"/>
<line x1="1581.7" y1="1802.9" x2="1605.6" y2="1827.3" stroke="#1030f0" stroke-width="6.4"/>
<line x1="1649.0" y1="1782.9" x2="1629.5" y2="1802.9" stroke="#80401a" stroke-width="6.4"/>
<line x1="1629.5" y1="1802.9" x2="1605.6" y2="1827.3" stroke="#1030f0" stroke-width="6.4"/>
<line x1="1649.0" y1="1782.9" x2="1668.5" y2="1802.9" stroke="#80401a" stroke-width="6.4"/>
<line x1="1668.5" y1="1802.9" x2="1692.4" y2="1827.3" stroke="#1030f0" stroke-width="6.4"/>
<line x1="1735.8" y1="1782.9" x2="1716.3" y2="1802.9" stroke="#80401a" stroke-width="6.4"/>
<line x1="1716.3" y1="1802.9" x2="1692.4" y2="1827.3" stroke="#1030f0" stroke-width="6.4"/>
<line x1="1735.8" y1="1782.9" x2="1755.3" y2="1802.9" stroke="#80401a" stroke-width="6.4"/>
<line x1="1755.3" y1="1802.9" x2="1779.2" y2="1827.3" stroke="#1030f0" stroke-width="6.4"/>
<line x1="1822.6" y1="1782.9" x2="1803.1" y2="1802.9" stroke="#80401a" stroke-width="6.4"/>
<line x1="1803.1" y1="1802.9" x2="1779.2" y2="1827.3" stroke="#1030f0" stroke-width="6.4"/>
<line x1="1822.6" y1="1782.9" x2="1842.1" y2="1802.9" stroke="#80401a" stroke-width="6.4"/>
<line x1="1842.1" y1="1802.9" x2="1866.0" y2="1827.3" stroke="#1030f0" stroke-width="6.4"/>
<line x1="1909.4" y1="1782.9" x2="1889.9" y2="1802.9" stroke="#80401a" stroke-width="6.4"/>
<line x1="1889.9" y1="1802.9" x2="1866.0" y2="1827.3" stroke="#1030f0" stroke-width="6.4"/>
<line x1="1909.4" y1="1782.9" x2="1928.9" y2="1802.9" stroke="#80401a" stroke-width="6.4"/>
<line x1="1928.9" y1="1802.9" x2="1952.8" y2="1827.3" stroke="#1030f0" stroke-width="6.4"/>
<line x1="1996.2" y1="1782.9" x2="1976.7" y2="1802.9" stroke="#80401a" stroke-width="6.4"/>
<line x1="1976.7" y1="1802.9" x2="1952.8" y2="1827.3" stroke="#1030f0" stroke-width="6.4"/>
<line x1="1996.2" y1="1782.9" x2="2015.7" y2="1802.9" stroke="#80401a" stroke-width="6.4"/>
<line x1="2015.7" y1="1802.9" x2="2039.6" y2="1827.3" stroke="#1030f0" stroke-width="6.4"/>
<line x1="2083.0" y1="1782.9" x2="2063.5" y2="1802.9" stroke="#80401a" stroke-width="6.4"/>
<line x1="2063.5" y1="1802.9" x2="2039.6" y2="1827.3" stroke="#1030f0" stroke-width="6.4"/>
<line x1="2083.0" y1="1782.9" x2="2102.5" y2="1802.9" stroke="#80401a" stroke-width="6.4"/>
<line x1="2102.5" y1="1802.9" x2="2126.4" y2="1827.3" stroke="#1030f0" stroke-width="6.4"/>
<line x1="2169.8" y1="1782.9" x2="2150.3" y2="1802.9" stroke="#80401a" stroke-width="6.4"/>
<line x1="2150.3" y1="1802.9" x2="2126.4" y2="1827.3" stroke="#1030f0" stroke-width="6.4"/>
<line x1="2169.8" y1="1782.9" x2="2189.3" y2="1802.9" stroke="#80401a" stroke-width="6.4"/>
<line x1="2189.3" y1="1802.9" x2="2213.2" y2="1827.3" stroke="#1030f0" stroke-width="6.4"/>
<line x1="2256.6" y1="1782.9" x2="2237.1" y2="1802.9" stroke="#80401a" stroke-width="6.4"/>
<line x1="2237.1" y1="1802.9" x2="2213.2" y2="1827.3" stroke="#1030f0" stroke-width="6.4"/>
<circle cx="1475.4" cy="1694.5" r="11.8" fill="url(#gC)"/>
<circle cx="1562.2" cy="1694.5" r="11.8" fill="url(#gC)"/>
<circle cx="1649.0" cy="1694.5" r="11.8" fill="url(#gC)"/>
<circle cx="1735.8" cy="1694.5" r="11.8" fill="url(#gC)"/>
<circle cx="1822.6" cy="1694.5" r="11.8" fill="url(#gC)"/>
<circle cx="1909.4" cy="1694.5" r="11.8" fill="url(#gC)"/>
<circle cx="1996.2" cy="1694.5" r="11.8" fill="url(#gC)"/>
<circle cx="2083.0" cy="1694.5" r="11.8" fill="url(#gC)"/>
<circle cx="2169.8" cy="1694.5" r="11.8" fill="url(#gC)"/>
<circle cx="2256.6" cy="1694.5" r="11.8" fill="url(#gC)"/>
<circle cx="1518.8" cy="1738.4" r="18.4" fill="url(#gS)"/>
<circle cx="1605.6" cy="1738.4" r="18.4" fill="url(#gS)"/>
<circle cx="1692.4" cy="1738.4" r="18.4" fill="url(#gS)"/>
<circle cx="1779.2" cy="1738.4" r="18.4" fill="url(#gS)"/>
<circle cx="1866.0" cy="1738.4" r="18.4" fill="url(#gS)"/>
<circle cx="1952.8" cy="1738.4" r="18.4" fill="url(#gS)"/>
<circle cx="2039.6" cy="1738.4" r="18.4" fill="url(#gS)"/>
<circle cx="2126.4" cy="1738.4" r="18.4" fill="url(#gS)"/>
<circle cx="2213.2" cy="1738.4" r="18.4" fill="url(#gS)"/>
<circle cx="1475.4" cy="1782.9" r="11.8" fill="url(#gC)"/>
<circle cx="1562.2" cy="1782.9" r="11.8" fill="url(#gC)"/>
<circle cx="1649.0" cy="1782.9" r="11.8" fill="url(#gC)"/>
<circle cx="1735.8" cy="1782.9" r="11.8" fill="url(#gC)"/>
<circle cx="1822.6" cy="1782.9" r="11.8" fill="url(#gC)"/>
<circle cx="1909.4" cy="1782.9" r="11.8" fill="url(#gC)"/>
<circle cx="1996.2" cy="1782.9" r="11.8" fill="url(#gC)"/>
<circle cx="2083.0" cy="1782.9" r="11.8" fill="url(#gC)"/>
<circle cx="2169.8" cy="1782.9" r="11.8" fill="url(#gC)"/>
<circle cx="2256.6" cy="1782.9" r="11.8" fill="url(#gC)"/>
<path d="M1518.6 1488.9H2213.6V1911.7H1518.6Z" fill="none" stroke="#000" stroke-opacity="0.6" stroke-width="2.4" stroke-linejoin="round"/>
<circle cx="1518.8" cy="1827.3" r="18.4" fill="url(#gS)"/>
<circle cx="1605.6" cy="1827.3" r="18.4" fill="url(#gS)"/>
<circle cx="1692.4" cy="1827.3" r="18.4" fill="url(#gS)"/>
<circle cx="1779.2" cy="1827.3" r="18.4" fill="url(#gS)"/>
<circle cx="1866.0" cy="1827.3" r="18.4" fill="url(#gS)"/>
<circle cx="1952.8" cy="1827.3" r="18.4" fill="url(#gS)"/>
<circle cx="2039.6" cy="1827.3" r="18.4" fill="url(#gS)"/>
<circle cx="2126.4" cy="1827.3" r="18.4" fill="url(#gS)"/>
<circle cx="2213.2" cy="1827.3" r="18.4" fill="url(#gS)"/>
<text x="1615.8" y="1668" font-size="58.5" fill="#a06c55" textLength="506.3" lengthAdjust="spacingAndGlyphs">C-terminated Surface</text>
</svg></body></html>
